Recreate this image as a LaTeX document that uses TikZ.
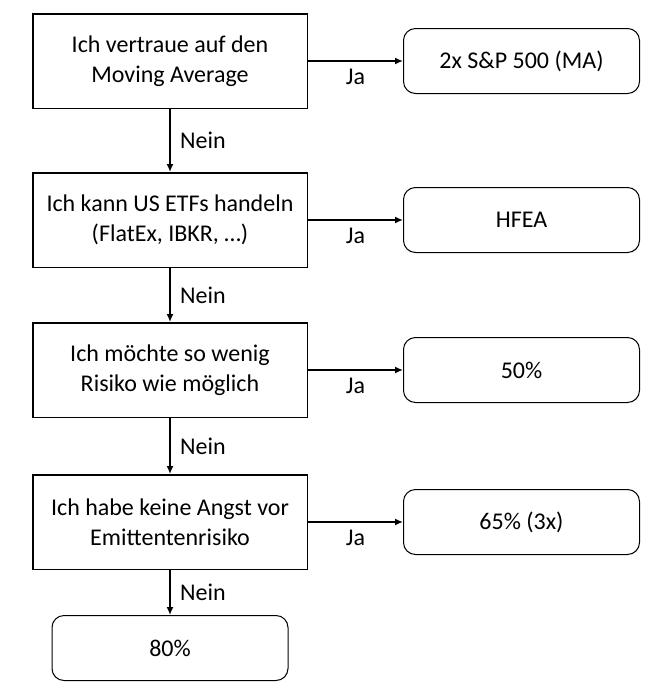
\documentclass[tikz,border=0pt]{standalone}
\usepackage{fontspec}
\setmainfont{Carlito}
\usetikzlibrary{positioning, arrows.meta}

\begin{document}
\begin{tikzpicture}[
  x=1pt, y=1pt,
  every node/.style={font=\fontsize{24}{30}\selectfont},
  frage/.style={
    rectangle, draw=black, line width=1.5pt,
    minimum width=274.5pt, minimum height=94.5pt,
    align=center, inner sep=0pt
  },
  antwort/.style={
    rectangle, draw=black, rounded corners=12pt, line width=1pt,
    minimum width=236pt, minimum height=65pt,
    align=center, inner sep=0pt
  },
  arr/.style={-{Latex[length=8pt, width=7pt]}, line width=1.5pt},
]
\useasboundingbox (0,0) rectangle (664,-696);

%% Fragen
\node[frage] (ma) at (170,-61) {Ich vertraue auf den\\Moving Average};
\node[frage, below=63pt of ma] (us) {Ich kann US ETFs handeln\\(FlatEx, IBKR, \dots)};
\node[frage, below=54pt of us] (risiko) {Ich möchte so wenig\\Risiko wie möglich};
\node[frage, below=56pt of risiko] (emit) {Ich habe keine Angst vor\\Emittentenrisiko};

%% Antworten
\node[antwort, right=95pt of ma] (sp) {2x S\&P 500 (MA)};
\node[antwort, right=95pt of us] (hfea) {HFEA};
\node[antwort, right=95pt of risiko] (p50) {50\%};
\node[antwort, right=95pt of emit] (p65) {65\% (3x)};
\node[antwort, below=45pt of emit] (p80) {80\%};

%% Pfeile
\draw[arr] (ma) -- node[below=4pt] {Ja} (sp);
\draw[arr] (us) -- node[below=4pt] {Ja} (hfea);
\draw[arr] (risiko) -- node[below=4pt] {Ja} (p50);
\draw[arr] (emit) -- node[below=4pt] {Ja} (p65);
\draw[arr] (ma) -- node[right=6pt] {Nein} (us);
\draw[arr] (us) -- node[right=6pt] {Nein} (risiko);
\draw[arr] (risiko) -- node[right=6pt] {Nein} (emit);
\draw[arr] (emit) -- node[right=6pt] {Nein} (p80);

\end{tikzpicture}
\end{document}
